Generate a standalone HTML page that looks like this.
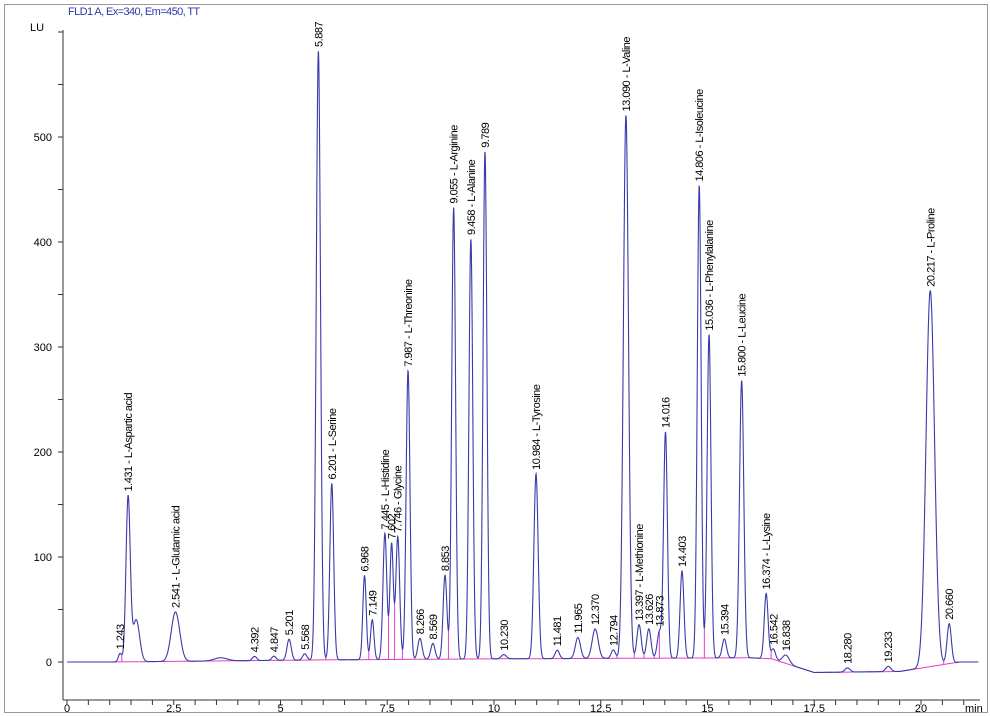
<!DOCTYPE html>
<html><head><meta charset="utf-8"><style>
html,body{margin:0;padding:0;background:#fff;overflow:hidden;width:990px;height:717px;}
svg{display:block;font-family:"Liberation Sans",sans-serif;}
</style></head><body>
<svg id="c" width="990" height="717">
<rect x="4.5" y="4.5" width="983" height="708" fill="none" stroke="#9a9a9a"/>
<text x="68" y="15" font-size="11" fill="#2a3aa8" letter-spacing="-0.6">FLD1 A, Ex=340, Em=450, TT</text>
<text x="30" y="31" font-size="11" fill="#000">LU</text>
<g id="axes"></g><g id="marks"></g><g id="labels"></g>
</svg>
<script>
const times=[1.243,1.431,1.62,2.541,3.6,4.392,4.847,5.201,5.568,5.887,6.201,6.968,7.149,7.445,7.602,7.746,7.987,8.266,8.569,8.853,9.055,9.458,9.789,10.230,10.984,11.481,11.965,12.370,12.794,13.090,13.397,13.626,13.873,14.016,14.403,14.806,15.036,15.394,15.800,16.374,16.542,16.838,18.280,19.233,20.217,20.660];
const heights=[8,156,40,47,3,4,4,20,6,580,168,80,38,120,110,117,275,20,15,80,430,400,483,4,176,8,20,28,8,517,32,28,25,215,83,450,308,18,264,62,10,8,4,5,358,38];
const widths=[0.04,0.05,0.08,0.1,0.15,0.05,0.05,0.05,0.05,0.05,0.045,0.04,0.04,0.045,0.04,0.045,0.045,0.05,0.05,0.045,0.045,0.045,0.045,0.06,0.05,0.05,0.06,0.07,0.05,0.06,0.05,0.05,0.05,0.045,0.045,0.045,0.045,0.05,0.05,0.045,0.05,0.08,0.06,0.06,0.1,0.05];
const peakLabels=["1.243","1.431 - L-Aspartic acid",null,"2.541 - L-Glutamic acid",null,"4.392","4.847","5.201","5.568","5.887","6.201 - L-Serine","6.968","7.149","7.445 - L-Histidine","7.602","7.746 - Glycine","7.987 - L-Threonine","8.266","8.569","8.853","9.055 - L-Arginine","9.458 - L-Alanine","9.789","10.230","10.984 - L-Tyrosine","11.481","11.965","12.370","12.794","13.090 - L-Valine","13.397 - L-Methionine","13.626","13.873","14.016","14.403","14.806 - L-Isoleucine","15.036 - L-Phenylalanine","15.394","15.800 - L-Leucine","16.374 - L-Lysine","16.542","16.838","18.280","19.233","20.217 - L-Proline","20.660"];
const baseT=[0,1.0,6,10,16,16.5,17.5,19.5,20.9,21.4];
const baseV=[0,0,2,3,4,3,-10,-9,0,0];
const xTicks=[0,2.5,5,7.5,10,12.5,15,17.5,20];
const xTickLabels=["0","2.5","5","7.5","10","12.5","15","17.5","20"];
const yTicks=[0,100,200,300,400,500];
const yTickLabels=["0","100","200","300","400","500"];

const NS="http://www.w3.org/2000/svg";
const X=t=>67+t*42.7, Y=v=>662-v*1.05;
function mk(tag,a,p){const e=document.createElementNS(NS,tag);for(const k in a)e.setAttribute(k,a[k]);p.appendChild(e);return e;}
function base(t){for(let i=0;i<baseT.length-1;i++){if(t<=baseT[i+1]){const f=(t-baseT[i])/(baseT[i+1]-baseT[i]);return baseV[i]+f*(baseV[i+1]-baseV[i]);}}return 0;}
function sig(t){let s=base(t);for(let i=0;i<times.length;i++){const d=(t-times[i])/widths[i];s+=heights[i]*Math.exp(-0.5*d*d);}return s;}
const ax=document.getElementById('axes'),mg=document.getElementById('marks'),lg=document.getElementById('labels');
let e=mk('line',{x1:63,y1:30,x2:63,y2:700,stroke:'#333'},ax);

e=mk('line',{x1:63,y1:700,x2:980,y2:700,stroke:'#333'},ax);

for(let v=-50;v<=600;v+=50){if(Y(v)>700)continue;mk('line',{x1:58,x2:63,y1:Y(v),y2:Y(v),stroke:'#333'},ax);}
yTicks.forEach((v,i)=>{const t=mk('text',{x:52,y:Y(v)+4,'font-size':11,'text-anchor':'end'},ax);t.textContent=yTickLabels[i];
});
for(let m=0;m<=21;m+=0.5){mk('line',{x1:X(m),x2:X(m),y1:700,y2:705,stroke:'#333'},ax);}
xTicks.forEach((v,i)=>{const t=mk('text',{x:X(v),y:712,'font-size':11,'text-anchor':'middle'},ax);t.textContent=xTickLabels[i];
});
e=mk('text',{x:965,y:712,'font-size':11},ax);e.textContent='min';

let bp='';for(let t=1.0;t<=21;t+=0.1)bp+=(bp?'L':'M')+X(t).toFixed(1)+','+Y(base(t)).toFixed(1);
e=mk('path',{d:bp,fill:'none',stroke:'#e040c0','stroke-width':1},mg);

for(let i=0;i<times.length-1;i++){if(times[i+1]-times[i]<0.5&&peakLabels[i+1]){let tm=times[i],mn=1e9;for(let t=times[i];t<=times[i+1];t+=0.005){const v=sig(t);if(v<mn){mn=v;tm=t;}}
e=mk('line',{x1:X(tm),x2:X(tm),y1:Y(base(tm)),y2:Y(mn),stroke:'#e040c0'},mg);
}}
let d='';for(let t=0;t<=21.35;t+=0.005)d+=(d?'L':'M')+X(t).toFixed(2)+','+Y(sig(t)).toFixed(2);
e=mk('path',{d:d,fill:'none',stroke:'#3a3aa8','stroke-width':1.1},mg);

times.forEach((t,i)=>{if(!peakLabels[i])return;const x=X(t)+4,y=Y(sig(t))-4;
const l=mk('text',{x:x,y:y,'font-size':11,transform:`rotate(-90 ${x} ${y})`,'letter-spacing':'-0.5'},lg);l.textContent=peakLabels[i];
});
</script>
</body></html>
